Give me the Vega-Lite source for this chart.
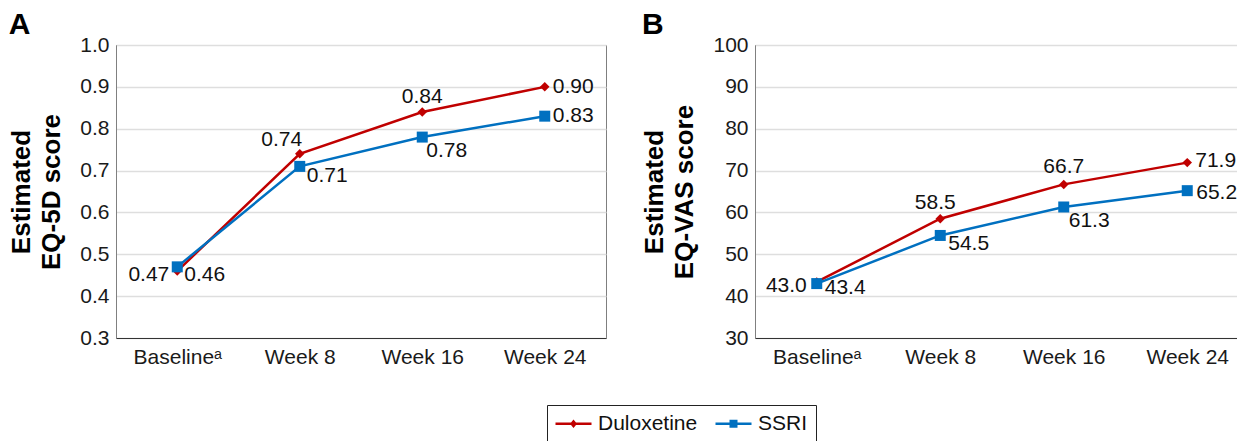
{
  "$schema": "https://vega.github.io/schema/vega-lite/v6.json",
  "background": "white",
  "padding": {"left": 8, "top": 9, "right": 5, "bottom": 5},
  "spacing": 34,
  "data": {
    "values": [
      {"panel": "A", "week": "Baselineᵃ", "series": "Duloxetine", "value": 0.46},
      {"panel": "A", "week": "Week 8", "series": "Duloxetine", "value": 0.74},
      {"panel": "A", "week": "Week 16", "series": "Duloxetine", "value": 0.84},
      {"panel": "A", "week": "Week 24", "series": "Duloxetine", "value": 0.90},
      {"panel": "A", "week": "Baselineᵃ", "series": "SSRI", "value": 0.47},
      {"panel": "A", "week": "Week 8", "series": "SSRI", "value": 0.71},
      {"panel": "A", "week": "Week 16", "series": "SSRI", "value": 0.78},
      {"panel": "A", "week": "Week 24", "series": "SSRI", "value": 0.83},
      {"panel": "B", "week": "Baselineᵃ", "series": "Duloxetine", "value": 43.4},
      {"panel": "B", "week": "Week 8", "series": "Duloxetine", "value": 58.5},
      {"panel": "B", "week": "Week 16", "series": "Duloxetine", "value": 66.7},
      {"panel": "B", "week": "Week 24", "series": "Duloxetine", "value": 71.9},
      {"panel": "B", "week": "Baselineᵃ", "series": "SSRI", "value": 43.0},
      {"panel": "B", "week": "Week 8", "series": "SSRI", "value": 54.5},
      {"panel": "B", "week": "Week 16", "series": "SSRI", "value": 61.3},
      {"panel": "B", "week": "Week 24", "series": "SSRI", "value": 65.2}
    ]
  },
  "hconcat": [
    {
      "title": {"text": "A"},
      "width": 490,
      "height": 293,
      "transform": [{"filter": "datum.panel == 'A'"}],
      "encoding": {
        "x": {
          "field": "week",
          "type": "ordinal",
          "sort": ["Baselineᵃ", "Week 8", "Week 16", "Week 24"],
          "scale": {"type": "point", "padding": 0.5},
          "axis": {"title": null, "labelAngle": 0}
        },
        "y": {
          "field": "value",
          "type": "quantitative",
          "scale": {"domain": [0.3, 1.0], "nice": false, "zero": false},
          "axis": {
            "title": ["Estimated", "EQ-5D score"],
            "values": [0.3, 0.4, 0.5, 0.6, 0.7, 0.8, 0.9, 1.0],
            "format": ".1f"
          }
        }
      },
      "layer": [
        {
          "mark": {"type": "point", "filled": true, "opacity": 0},
          "encoding": {
            "color": {
              "field": "series",
              "type": "nominal",
              "scale": {"domain": ["Duloxetine", "SSRI"], "range": ["#c00000", "#0070c0"]},
              "legend": {
                "orient": "none",
                "legendX": 431,
                "legendY": 360,
                "direction": "horizontal",
                "title": null,
                "symbolSize": 400,
                "symbolOpacity": 1,
                "labelOffset": 22,
                "columnPadding": 17
              }
            },
            "shape": {
              "field": "series",
              "type": "nominal",
              "scale": {
                "domain": ["Duloxetine", "SSRI"],
                "range": [
                  "M-1,-0.12L2.6,-0.12L2.6,0.12L-1,0.12Z M0.8,-0.42L1.15,0L0.8,0.42L0.45,0Z",
                  "M-1,-0.12L2.6,-0.12L2.6,0.12L-1,0.12Z M0.4,-0.4L1.2,-0.4L1.2,0.4L0.4,0.4Z"
                ]
              },
              "legend": {
                "orient": "none",
                "legendX": 431,
                "legendY": 360,
                "direction": "horizontal",
                "title": null,
                "symbolSize": 400,
                "symbolOpacity": 1,
                "labelOffset": 22,
                "columnPadding": 17
              }
            }
          }
        },
        {
          "transform": [{"filter": "datum.series == 'Duloxetine'"}],
          "mark": {"type": "line", "strokeWidth": 2.5, "color": "#c00000"}
        },
        {
          "transform": [{"filter": "datum.series == 'SSRI'"}],
          "mark": {"type": "line", "strokeWidth": 2.5, "color": "#0070c0"}
        },
        {
          "transform": [{"filter": "datum.series == 'Duloxetine'"}],
          "mark": {"type": "point", "shape": "diamond", "filled": true, "opacity": 1, "size": 90, "color": "#c00000"}
        },
        {
          "transform": [{"filter": "datum.series == 'SSRI'"}],
          "mark": {"type": "point", "shape": "square", "filled": true, "opacity": 1, "size": 121, "color": "#0070c0"}
        },
        {
          "transform": [{"filter": "datum.series == 'Duloxetine' && datum.week == 'Week 8'"}],
          "mark": {"type": "text", "align": "center", "baseline": "middle", "dx": -18, "dy": -14},
          "encoding": {"text": {"field": "value", "format": ".2f"}}
        },
        {
          "transform": [{"filter": "datum.series == 'Duloxetine' && datum.week == 'Week 16'"}],
          "mark": {"type": "text", "align": "center", "baseline": "middle", "dx": 0, "dy": -15},
          "encoding": {"text": {"field": "value", "format": ".2f"}}
        },
        {
          "transform": [{"filter": "datum.series == 'SSRI' && datum.week == 'Week 8'"}],
          "mark": {"type": "text", "align": "left", "baseline": "middle", "dx": 7, "dy": 10},
          "encoding": {"text": {"field": "value", "format": ".2f"}}
        },
        {
          "transform": [{"filter": "datum.series == 'SSRI' && datum.week == 'Week 16'"}],
          "mark": {"type": "text", "align": "left", "baseline": "middle", "dx": 4, "dy": 14},
          "encoding": {"text": {"field": "value", "format": ".2f"}}
        },
        {
          "transform": [{"filter": "datum.week == 'Week 24'"}],
          "mark": {"type": "text", "align": "left", "baseline": "middle", "dx": 8, "dy": 0},
          "encoding": {"text": {"field": "value", "format": ".2f"}}
        },
        {
          "transform": [{"filter": "datum.series == 'SSRI' && datum.week == 'Baselineᵃ'"}],
          "mark": {"type": "text", "align": "right", "baseline": "middle", "dx": -8, "dy": 8},
          "encoding": {"text": {"field": "value", "format": ".2f"}}
        },
        {
          "transform": [{"filter": "datum.series == 'Duloxetine' && datum.week == 'Baselineᵃ'"}],
          "mark": {"type": "text", "align": "left", "baseline": "middle", "dx": 7, "dy": 4},
          "encoding": {"text": {"field": "value", "format": ".2f"}}
        }
      ]
    },
    {
      "title": {"text": "B"},
      "width": 494,
      "height": 293,
      "transform": [{"filter": "datum.panel == 'B'"}],
      "encoding": {
        "x": {
          "field": "week",
          "type": "ordinal",
          "sort": ["Baselineᵃ", "Week 8", "Week 16", "Week 24"],
          "scale": {"type": "point", "padding": 0.5},
          "axis": {"title": null, "labelAngle": 0}
        },
        "y": {
          "field": "value",
          "type": "quantitative",
          "scale": {"domain": [30, 100], "nice": false, "zero": false},
          "axis": {
            "title": ["Estimated", "EQ-VAS score"],
            "values": [30, 40, 50, 60, 70, 80, 90, 100],
            "format": "d"
          }
        }
      },
      "layer": [
        {
          "transform": [{"filter": "datum.series == 'Duloxetine'"}],
          "mark": {"type": "line", "strokeWidth": 2.5, "color": "#c00000"}
        },
        {
          "transform": [{"filter": "datum.series == 'SSRI'"}],
          "mark": {"type": "line", "strokeWidth": 2.5, "color": "#0070c0"}
        },
        {
          "transform": [{"filter": "datum.series == 'Duloxetine'"}],
          "mark": {"type": "point", "shape": "diamond", "filled": true, "opacity": 1, "size": 90, "color": "#c00000"}
        },
        {
          "transform": [{"filter": "datum.series == 'SSRI'"}],
          "mark": {"type": "point", "shape": "square", "filled": true, "opacity": 1, "size": 121, "color": "#0070c0"}
        },
        {
          "transform": [{"filter": "datum.series == 'Duloxetine' && datum.week == 'Week 8'"}],
          "mark": {"type": "text", "align": "center", "baseline": "middle", "dx": -5, "dy": -16},
          "encoding": {"text": {"field": "value", "format": ".1f"}}
        },
        {
          "transform": [{"filter": "datum.series == 'Duloxetine' && datum.week == 'Week 16'"}],
          "mark": {"type": "text", "align": "center", "baseline": "middle", "dx": 0, "dy": -17},
          "encoding": {"text": {"field": "value", "format": ".1f"}}
        },
        {
          "transform": [{"filter": "datum.series == 'SSRI' && datum.week == 'Week 8'"}],
          "mark": {"type": "text", "align": "left", "baseline": "middle", "dx": 8, "dy": 9},
          "encoding": {"text": {"field": "value", "format": ".1f"}}
        },
        {
          "transform": [{"filter": "datum.series == 'SSRI' && datum.week == 'Week 16'"}],
          "mark": {"type": "text", "align": "left", "baseline": "middle", "dx": 5, "dy": 14},
          "encoding": {"text": {"field": "value", "format": ".1f"}}
        },
        {
          "transform": [{"filter": "datum.series == 'Duloxetine' && datum.week == 'Week 24'"}],
          "mark": {"type": "text", "align": "left", "baseline": "middle", "dx": 8, "dy": -2},
          "encoding": {"text": {"field": "value", "format": ".1f"}}
        },
        {
          "transform": [{"filter": "datum.series == 'SSRI' && datum.week == 'Week 24'"}],
          "mark": {"type": "text", "align": "left", "baseline": "middle", "dx": 9, "dy": 2},
          "encoding": {"text": {"field": "value", "format": ".1f"}}
        },
        {
          "transform": [{"filter": "datum.series == 'SSRI' && datum.week == 'Baselineᵃ'"}],
          "mark": {"type": "text", "align": "right", "baseline": "middle", "dx": -10, "dy": 2},
          "encoding": {"text": {"field": "value", "format": ".1f"}}
        },
        {
          "transform": [{"filter": "datum.series == 'Duloxetine' && datum.week == 'Baselineᵃ'"}],
          "mark": {"type": "text", "align": "left", "baseline": "middle", "dx": 8, "dy": 6},
          "encoding": {"text": {"field": "value", "format": ".1f"}}
        }
      ]
    }
  ],
  "config": {
    "font": "Liberation Sans",
    "view": {"stroke": "#7f7f7f", "strokeWidth": 1},
    "text": {"fontSize": 21, "color": "#111111"},
    "axis": {
      "labelFontSize": 21,
      "labelColor": "#1a1a1a",
      "titleFontSize": 26,
      "titleFontWeight": "bold",
      "titleColor": "#000000",
      "ticks": false,
      "labelPadding": 7,
      "gridColor": "#dedede",
      "gridWidth": 1.3
    },
    "axisX": {"grid": false, "domainColor": "#333333", "labelPadding": 8},
    "axisY": {"domainColor": "#808080", "titlePadding": 15, "titleLineHeight": 30},
    "title": {
      "fontSize": 30,
      "fontWeight": "bold",
      "color": "#000000",
      "anchor": "start",
      "frame": "bounds",
      "offset": 0,
      "dy": 10
    },
    "legend": {
      "labelFontSize": 21,
      "labelColor": "#111111",
      "strokeColor": "#222222",
      "fillColor": "white",
      "padding": 8,
      "symbolStrokeWidth": 0
    }
  }
}
